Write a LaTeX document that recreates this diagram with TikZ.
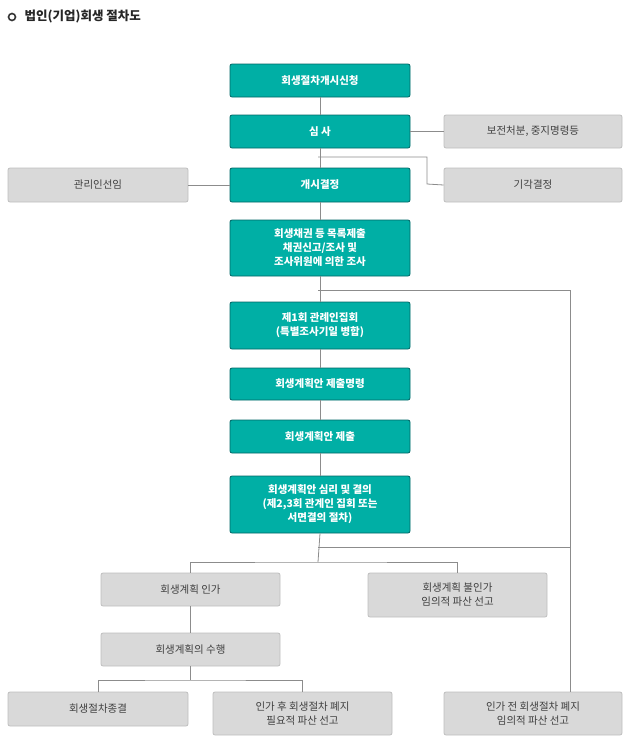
\documentclass[tikz,border=0pt]{standalone}
\usepackage{fontspec}
\setmainfont{Noto Sans CJK KR}
\begin{document}
\begin{tikzpicture}[x=1pt,y=-1pt,
  teal/.style={draw=teal!80!black,fill=tealc,rounded corners=2pt,text=white,font=\fontsize{10.5}{14}\selectfont\bfseries,align=center,line width=0.8pt},
  grey/.style={draw=black!25,fill=black!15,rounded corners=2pt,text=black!75,font=\fontsize{10.5}{14}\selectfont,align=center,line width=0.8pt},
  conn/.style={draw=black!45,line width=0.8pt}]
\definecolor{tealc}{HTML}{00AFA5}
\path[use as bounding box] (0,0) rectangle (630,748);
\draw[line width=1.6pt,black!80] (12,17) circle (3.5);
\node[anchor=west,font=\fontsize{12.5}{14}\selectfont\bfseries,text=black!85] (title) at (21,17) {법인(기업)회생 절차도};
\newcommand{\bx}[6]{\node[#1,minimum width=#4-#2,minimum height=#5-#3,inner sep=0pt] (#6) at ({(#2+#4)/2},{(#3+#5)/2})}
\bx{teal}{230}{64}{410}{97}{A}{회생절차개시신청};
\bx{teal}{230}{115}{410}{148}{B}{심 사};
\bx{grey}{444}{115}{622}{148}{C}{보전처분, 중지명령등};
\bx{teal}{230}{168}{410}{202}{D}{개시결정};
\bx{grey}{8}{168}{188}{202}{E}{관리인선임};
\bx{grey}{444}{168}{622}{202}{F}{기각결정};
\bx{teal}{230}{220}{410}{276}{G}{회생채권 등 목록제출\\채권신고/조사 및\\조사위원에 의한 조사};
\bx{teal}{230}{302}{410}{349}{H}{제1회 관례인집회\\(특별조사기일 병합)};
\bx{teal}{230}{368}{410}{400}{I}{회생계획안 제출명령};
\bx{teal}{230}{420}{410}{453}{J}{회생계획안 제출};
\bx{teal}{230}{476}{410}{533}{K}{회생계획안 심리 및 결의\\(제2,3회 관계인 집회 또는\\서면결의 절차)};
\bx{grey}{101}{573}{280}{606}{L}{회생계획 인가};
\bx{grey}{368}{573}{547}{617}{M}{회생계획 불인가\\임의적 파산 선고};
\bx{grey}{101}{633}{280}{666}{N}{회생계획의 수행};
\bx{grey}{8}{692}{188}{726}{O}{회생절차종결};
\bx{grey}{213}{692}{392}{735}{P}{인가 후 회생절차 폐지\\필요적 파산 선고};
\bx{grey}{444}{692}{622}{735}{Q}{인가 전 회생절차 폐지\\임의적 파산 선고};
\coordinate (qtop) at (570,692);
\draw[conn] (A.south) -- (B.north);
\draw[conn] (B.east) -- (C.west);
\draw[conn] (B.south) -- (D.north);
\draw[conn] (318,157) -| (427,184) -- (F.west);
\draw[conn] (E.east) -- (D.west);
\draw[conn] (D.south) -- (G.north);
\draw[conn] (G.south) -- (H.north);
\draw[conn] (318,290) -| (qtop);
\draw[conn] (H.south) -- (I.north);
\draw[conn] (I.south) -- (J.north);
\draw[conn] (J.south) -- (K.north);
\draw[conn] (K.south) -- (318,562);
\draw[conn] (318,547) -- (570,547);
\draw[conn] (L.north) |- (318,562) -| (M.north);
\draw[conn] (L.south) -- (N.north);
\draw[conn] (N.south) -- (190.5,680);
\draw[conn] (98,692) |- (190.5,680) -| (302.5,692);
\end{tikzpicture}
\end{document}
